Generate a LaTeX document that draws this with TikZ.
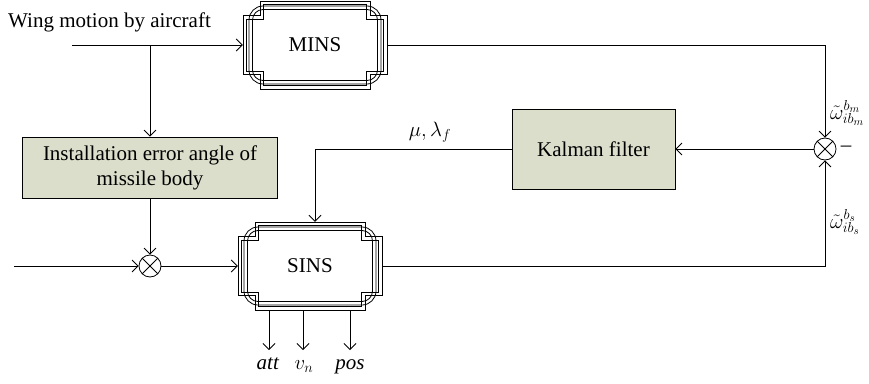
\documentclass[tikz,border=0pt]{standalone}
\usepackage{fontspec}
\setmainfont{Liberation Serif}
\usetikzlibrary{arrows.meta,calc}
\definecolor{boxfill}{RGB}{218,222,202}
\tikzset{
  txt/.style={font=\fontsize{21}{25}\selectfont},
  arr/.style={line width=0.8pt,-{Straight Barb[length=6pt,width=12pt,line width=0.8pt]}},
  ln/.style={line width=0.8pt},
  frameline/.style={line width=0.8pt},
  greenbox/.style={txt,draw,line width=0.8pt,fill=boxfill,align=center,inner sep=0pt},
  sumnode/.style={circle,draw,line width=0.8pt,minimum size=22pt,inner sep=0pt,
    path picture={\draw[line width=0.8pt] (path picture bounding box.north west) -- (path picture bounding box.south east)
      (path picture bounding box.north east) -- (path picture bounding box.south west);}},
  insbox/.style={txt,inner sep=0pt,minimum width=144pt,minimum height=88pt}
}
\newcommand{\fancyframe}[1]{%
  \begin{scope}[shift={#1}]
    \foreach \d in {0,3.5}{
      \pgfmathsetmacro{\fa}{72-\d}
      \pgfmathsetmacro{\fb}{29.5-\d}
      \pgfmathsetmacro{\fc}{55-\d}
      \pgfmathsetmacro{\fe}{44-\d}
      \pgfmathsetmacro{\ra}{66-\d}
      \pgfmathsetmacro{\rb}{39-\d}
      \pgfmathsetmacro{\rr}{14-\d}
      \draw[frameline] (-\fc,-\fe) -- (\fc,-\fe) -- (\fc,-\fb) -- (\fa,-\fb) -- (\fa,\fb) -- (\fc,\fb) -- (\fc,\fe) -- (-\fc,\fe) -- (-\fc,\fb) -- (-\fa,\fb) -- (-\fa,-\fb) -- (-\fc,-\fb) -- cycle;
      \draw[frameline,rounded corners=\rr pt] (-\ra,-\rb) rectangle (\ra,\rb);
    }
  \end{scope}}
\begin{document}
\begin{tikzpicture}[x=1pt,y=-1pt]
  \fill[white] (0,0) rectangle (869,383);
  \useasboundingbox (0,0) rectangle (869,383);

  % fancy frames
  \fancyframe{(315,45)}
  \fancyframe{(310,266)}

  % nodes
  \node[insbox] (MINS) at (315,45) {MINS};
  \node[insbox] (SINS) at (310,266) {SINS};
  \node[greenbox,minimum width=255pt,minimum height=61pt] (inst) at (150,167.5)
    {Installation error angle of\\missile body};
  \node[greenbox,minimum width=163pt,minimum height=80pt] (kal) at (593.5,149) {Kalman filter};
  \node[sumnode] (sum1) at (150,266) {};
  \node[sumnode] (sum2) at (825,149) {};

  \node[txt,anchor=base west,inner sep=0pt] (wing) at (8,27) {Wing motion by aircraft};

  % coordinates
  \coordinate (win) at (72,45);
  \coordinate (br) at (150,45);
  \coordinate (lin) at (14,266);
  \coordinate (mr) at (825,45);
  \coordinate (sr) at (825,266);
  \coordinate (kt) at (315,149);
  \coordinate (o1) at (269,350);
  \coordinate (o2) at (303,350);
  \coordinate (o3) at (350,350);

  % connectors
  \draw[arr] (win) -- (MINS.west);
  \draw[arr] (br) -- (inst.north);
  \draw[arr] (inst.south) -- (sum1.north);
  \draw[arr] (lin) -- (sum1.west);
  \draw[arr] (sum1.east) -- (SINS.west);
  \draw[arr] (MINS.east) -- (mr) -- (sum2.north);
  \draw[arr] (SINS.east) -- (sr) -- (sum2.south);
  \draw[arr] (sum2.west) -- (kal.east);
  \draw[arr] (kal.west) -- (kt) -- (kt |- SINS.north);
  \draw[arr] (o1 |- SINS.south) -- (o1);
  \draw[arr] (o2 |- SINS.south) -- (o2);
  \draw[arr] (o3 |- SINS.south) -- (o3);

  % labels
  \node[txt,anchor=base] (latt) at (268,369) {\textit{att}};
  \node[txt,anchor=base] (lvn) at (304,369) {$v_n$};
  \node[txt,anchor=base] (lpos) at (350,369) {\textit{pos}};
  \node[txt] (lmu) at (430,132) {$\mu, \lambda_f$};
  \node[txt] (lminus) at (846,149) {--};
  \node[font=\fontsize{22}{26}\selectfont,anchor=west,inner sep=0pt] (lwm) at (830,113) {${\tilde{\omega}}^{b_m}_{ib_m}$};
  \node[font=\fontsize{22}{26}\selectfont,anchor=west,inner sep=0pt] (lws) at (830,222) {${\tilde{\omega}}^{b_s}_{ib_s}$};
\end{tikzpicture}
\end{document}
